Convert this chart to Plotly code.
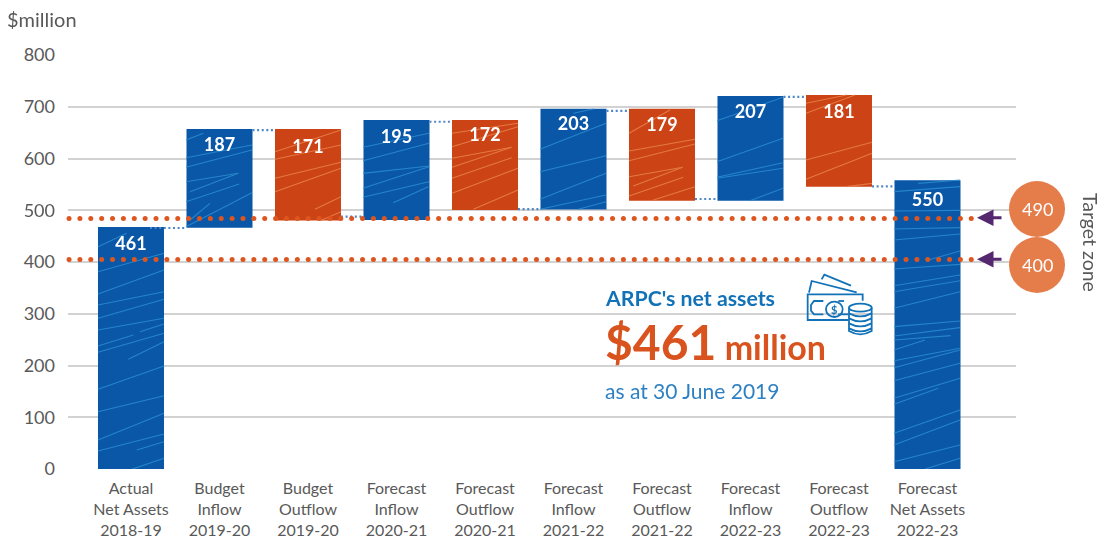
import numpy as np
import plotly.graph_objects as go

categories = ["Actual<br>Net Assets<br>2018-19", "Budget<br>Inflow<br>2019-20", "Budget<br>Outflow<br>2019-20",
              "Forecast<br>Inflow<br>2020-21", "Forecast<br>Outflow<br>2020-21", "Forecast<br>Inflow<br>2021-22",
              "Forecast<br>Outflow<br>2021-22", "Forecast<br>Inflow<br>2022-23", "Forecast<br>Outflow<br>2022-23",
              "Forecast<br>Net Assets<br>2022-23"]
bar_labels = [461, 187, 171, 195, 172, 203, 179, 207, 181, 550]
bar_tops = [467.5, 657, 657, 674.5, 674.5, 696, 696, 721, 722.5, 558]
bar_bottoms = [0, 466, 480, 481, 500.5, 501.5, 518.5, 518.5, 545.5, 0]
label_levels = [432, 623, 619, 638.5, 642, 663.5, 662, 687, 687, 517]
connector_levels = [465.7, 655, 487.5, 671, 502, 692, 521.7, 719, 546]
target_levels = [484, 405]
target_labels = [490, 400]
y_ticks = [0, 100, 200, 300, 400, 500, 600, 700, 800]

BLUE, ORANGE = "#0A57A8", "#CC4315"
STREAK_B, STREAK_O = "#2B8ECF", "#E8834F"
GREY = "#595959"
FONT = "Lato"
L, R, T, B = 68, 1016, 55, 469
PX_X, PX_Y = 88.5, 0.5175
is_out = ["Outflow" in c for c in categories]
cols = [ORANGE if o else BLUE for o in is_out]
xs = list(range(len(categories)))
BW = 0.746

fig = go.Figure()
fig.add_trace(go.Bar(x=xs, y=[t - b for t, b in zip(bar_tops, bar_bottoms)], base=bar_bottoms, width=BW,
                     marker=dict(color=cols, line_width=0), hoverinfo="skip"))

# decorative brush streaks on the bars, traced in page pixels: (crop origin, segments at 3x)
streaks_blue = [
 ((90, 220), [(24,80,110,40),(24,155,222,100),(24,222,222,150),(24,255,222,215),(24,295,222,238),(24,330,222,295),
              (150,335,222,312),(24,378,130,345),(24,397,222,340),(115,418,222,365),(24,508,222,438),(24,575,222,527),
              (24,660,222,580),(24,693,222,642),(140,690,222,665),(125,748,222,715)]),
 ((885, 175), [(100,25,225,15),(27,50,225,35),(27,108,225,106),(27,162,225,158),(27,195,225,177),(130,255,225,228),
               (27,282,225,268),(27,332,225,300),(27,350,225,317),(27,400,225,350),(27,455,225,438),(27,483,225,458),
               (27,495,197,482),(27,525,120,495),(27,557,225,520),(27,578,225,525),(27,617,225,565),(27,670,225,610),
               (27,688,160,640),(27,775,225,705),(27,810,225,735),(27,860,225,810),(120,882,225,850)]),
 ((180, 90), [(18,150,70,130),(18,203,216,165),(18,232,216,180),(18,275,175,250),(30,305,175,250),(18,335,178,282),
              (30,390,90,340),(18,410,216,308),
              (549,172,747,130),(549,212,747,160),(549,250,747,228),(549,295,747,230),(549,322,747,275),(640,338,745,290)]),
 ((530, 90), [(130,70,190,57),(30,178,228,100),(30,245,228,197),(30,328,228,250),(30,358,228,315),(145,358,228,335),
              (561,92,759,22),(561,215,759,145),(561,262,759,218),(561,265,759,235),(660,332,759,295)]),
]
streaks_orange = [
 ((180, 90), [(285,185,483,120),(285,208,483,165),(285,265,483,217),(285,305,483,235),(405,358,483,320),(420,392,483,365),
              (816,130,1014,100),(816,170,1014,110),(816,205,995,172),(816,232,995,172),(816,265,995,203),(816,310,1014,235),
              (880,358,1014,300)]),
 ((530, 90), [(297,130,420,60),(297,183,495,148),(297,212,495,162),(297,260,458,232),(310,288,458,232),(297,318,460,262),
              (370,330,495,290),(828,40,950,15),(828,70,975,15),(828,210,1026,157),(828,268,1026,190),(950,290,1026,280)]),
]
def streak_xy(groups):
    X, Y = [], []
    for (ox, oy), segs in groups:
        for x0, y0, x1, y1 in segs:
            X += [(ox + x0 / 3 - 131) / PX_X, (ox + x1 / 3 - 131) / PX_X, None]
            Y += [(B - oy - y0 / 3) / PX_Y, (B - oy - y1 / 3) / PX_Y, None]
    return X, Y
for groups, col in ((streaks_blue, STREAK_B), (streaks_orange, STREAK_O)):
    X, Y = streak_xy(groups)
    fig.add_trace(go.Scatter(x=X, y=Y, mode="lines", line=dict(color=col, width=1.1), opacity=0.85, hoverinfo="skip"))

for i, lv in enumerate(connector_levels):
    x0 = (150 - 131) / PX_X if i == 0 else i + BW / 2
    fig.add_trace(go.Scatter(x=[x0, i + 1 - BW / 2], y=[lv, lv], mode="lines",
                             line=dict(color="#4F86C6", width=2.2, dash="2px,2.6px"), hoverinfo="skip"))
fig.add_trace(go.Scatter(x=xs, y=label_levels, mode="text", text=[f"<b>{v}</b>" for v in bar_labels],
                         textfont=dict(family=FONT, size=18, color="white"), hoverinfo="skip"))
dot_x = np.arange(-0.70, 9.51, 10.87 / PX_X)
for lv in target_levels:
    fig.add_trace(go.Scatter(x=dot_x, y=[lv] * len(dot_x), mode="markers", cliponaxis=False,
                             marker=dict(color="#DD5620", size=5), hoverinfo="skip"))

def pxp(x, y):
    return (x - L) / (R - L), (B - y) / (B - T)
def ann(x, y, text, size, color, **kw):
    a, b = pxp(x, y)
    fig.add_annotation(xref="paper", yref="paper", x=a, y=b, text=text, showarrow=False,
                       xanchor=kw.pop("xanchor", "left"), yanchor="middle",
                       font=dict(family=FONT, size=size, color=color), **kw)
def circ(x0, y0, x1, y1, line=None, fill="rgba(0,0,0,0)"):
    a, b = pxp(x0, y0), pxp(x1, y1)
    fig.add_shape(type="circle", xref="paper", yref="paper", x0=a[0], y0=a[1], x1=b[0], y1=b[1],
                  line=line or dict(width=0), fillcolor=fill)

ann(5, 19, "$million", 20, GREY)
ann(1091, 242, "Target zone", 19.5, GREY, textangle=90, xanchor="center")
ann(603, 298, "<b>ARPC's net assets</b>", 21.3, "#1272B8")
ann(603, 341, "<b><span style='font-size:48px'>$461</span> million</b>", 34, "#D9531E")
ann(603, 390, "as at 30 June 2019", 21, "#2F80C2")

for cy, lab in zip((209, 265), target_labels):
    circ(1009, cy - 28, 1065, cy + 28, fill="#E57D4A")
    ann(1037, cy, str(lab), 18, "white", xanchor="center")
for yp in (217.7, 259.3):
    a, b = pxp(977, yp)
    fig.add_annotation(xref="paper", yref="paper", x=a, y=b, ax=26, ay=0, axref="pixel", ayref="pixel", text="",
                       showarrow=True, arrowhead=2, arrowsize=1.1, arrowwidth=3, arrowcolor="#54276F", standoff=0)

# decorative money icon, given in 3x crop pixels
def Z(x, y):
    return 590 + x / 3, 270 + y / 3
ICON = dict(color="#1272B8", width=1.8)
def path(cmds):
    parts = []
    for c, pts in cmds:
        parts.append(c + " ".join("%.5f,%.5f" % pxp(*Z(*p)) for p in pts))
    fig.add_shape(type="path", xref="paper", yref="paper", path=" ".join(parts), line=ICON)
def poly(*pts):
    path([("M", [pts[0]])] + [("L", [p]) for p in pts[1:]])
poly((695, 28), (703, 14), (783, 47))
poly((657, 68), (665, 33), (800, 67))
poly((775, 150), (653, 150), (653, 73), (818, 73), (818, 92))
poly((700, 93), (672, 93), (663, 105), (663, 122), (672, 133), (700, 133))
poly((762, 93), (745, 93))
poly((745, 133), (775, 133))
circ(*Z(708, 95), *Z(758, 141), line=ICON)
ann(*Z(733, 118), "<b>$</b>", 11, "#1272B8", xanchor="center")
path([("M", [(777, 113)]), ("L", [(777, 183)]), ("Q", [(811, 203), (845, 183)]), ("L", [(845, 113)])])
circ(*Z(777, 101), *Z(845, 125), line=ICON, fill="white")
for yy in (130, 145, 160, 175):
    path([("M", [(777, yy)]), ("Q", [(811, yy + 18), (845, yy)])])

fig.update_layout(
    width=1104, height=541, autosize=False, margin=dict(l=L, r=1104 - R, t=T, b=541 - B, autoexpand=False),
    paper_bgcolor="white", plot_bgcolor="white", showlegend=False,
    xaxis=dict(type="linear", range=[(L - 131) / PX_X, (R - 131) / PX_X], tickmode="array", tickvals=xs,
               ticktext=categories, showgrid=False, zeroline=False, ticks="outside", ticklen=5, automargin=False,
               tickcolor="rgba(0,0,0,0)", tickfont=dict(family=FONT, size=16, color=GREY), tickangle=0),
    yaxis=dict(range=[0, 800], tickmode="array", tickvals=y_ticks, showgrid=True, gridcolor="#D2D2D2", gridwidth=2,
               zeroline=False, showline=False, ticks="", ticklabelstandoff=12, automargin=False,
               tickfont=dict(family=FONT, size=18, color=GREY)),
)
fig.write_html("out.html", config=dict(displayModeBar=False),
               post_script="document.body.style.margin='0';document.documentElement.style.overflow='hidden';")
